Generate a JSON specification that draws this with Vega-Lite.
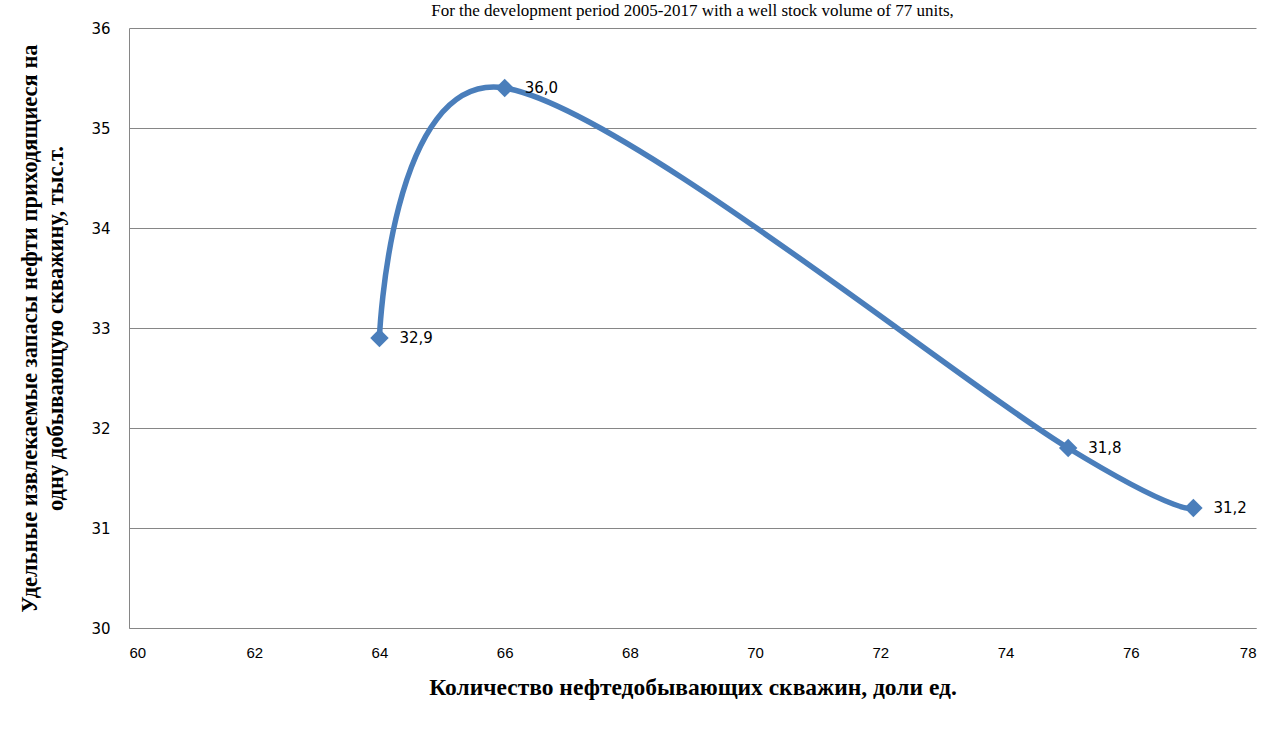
{
  "$schema": "https://vega.github.io/schema/vega-lite/v6.json",
  "width": 1127,
  "height": 600,
  "autosize": {"type": "none"},
  "padding": {"left": 129, "top": 28, "right": 27, "bottom": 114},
  "background": "white",
  "title": {
    "text": "For the development period 2005-2017 with a well stock volume of 77 units,",
    "font": "Liberation Serif",
    "fontSize": 17,
    "fontWeight": "normal",
    "color": "#000000",
    "anchor": "middle",
    "baseline": "top",
    "offset": 0,
    "dy": -1
  },
  "data": {
    "values": [
      {"x": 64, "y": 32.9, "label": "32,9"},
      {"x": 66, "y": 35.4, "label": "36,0"},
      {"x": 75, "y": 31.8, "label": "31,8"},
      {"x": 77, "y": 31.2, "label": "31,2"}
    ]
  },
  "encoding": {
    "x": {
      "field": "x",
      "type": "quantitative",
      "scale": {"domain": [60, 78], "nice": false, "zero": false},
      "axis": {
        "values": [60, 62, 64, 66, 68, 70, 72, 74, 76, 78],
        "title": "Количество нефтедобывающих скважин, доли ед.",
        "grid": false,
        "ticks": false,
        "domainColor": "#868686",
        "labelFont": "Liberation Sans",
        "labelFontSize": 15,
        "labelColor": "#000000",
        "labelPadding": 17,
        "titleFont": "Liberation Serif",
        "titleFontSize": 23.5,
        "titleFontWeight": "bold",
        "titleColor": "#000000",
        "titlePadding": 15
      }
    },
    "y": {
      "field": "y",
      "type": "quantitative",
      "scale": {"domain": [30, 36], "nice": false, "zero": false},
      "axis": {
        "values": [30, 31, 32, 33, 34, 35, 36],
        "title": ["Удельные извлекаемые запасы нефти приходящиеся на", "одну добывающую скважину, тыс.т."],
        "grid": true,
        "gridColor": "#868686",
        "gridWidth": 1,
        "ticks": false,
        "domainColor": "#868686",
        "labelFont": "DejaVu Sans",
        "labelFontSize": 15,
        "labelColor": "#000000",
        "labelPadding": 19,
        "titleFont": "Liberation Serif",
        "titleFontSize": 22.5,
        "titleFontWeight": "bold",
        "titleColor": "#000000",
        "titleLineHeight": 26,
        "titlePadding": 23
      }
    }
  },
  "layer": [
    {
      "mark": {"type": "line", "interpolate": "cardinal", "color": "#4a7ebb", "strokeWidth": 5.5}
    },
    {
      "mark": {"type": "point", "shape": "diamond", "filled": true, "color": "#4a7ebb", "size": 340, "opacity": 1}
    },
    {
      "mark": {"type": "text", "align": "left", "baseline": "middle", "dx": 20, "font": "DejaVu Sans", "fontSize": 15, "color": "#000000"},
      "encoding": {"text": {"field": "label"}}
    }
  ],
  "config": {"view": {"stroke": null}}
}
